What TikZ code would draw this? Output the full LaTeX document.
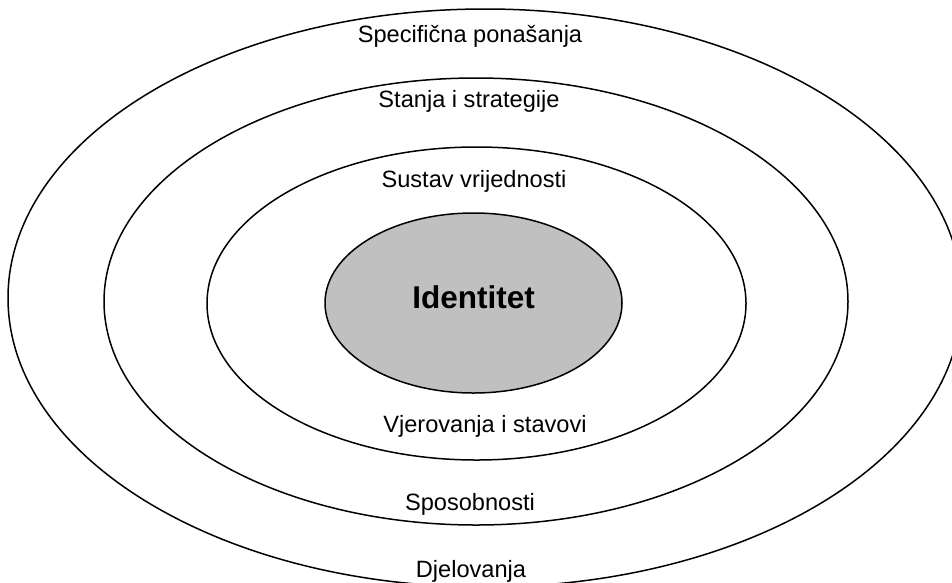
\documentclass[tikz,border=0pt]{standalone}
\usepackage{fontspec}
\setmainfont{Liberation Sans}
\usepackage{tikz}
\usetikzlibrary{shapes.geometric,positioning}
\definecolor{coreGray}{HTML}{C0C0C0}

\begin{document}
\begin{tikzpicture}[
x=1pt, y=-1pt,
every node/.style={font=\fontsize{23.6}{28}\selectfont},
ring/.style={draw, ellipse, line width=1.5pt, inner sep=0pt, outer sep=0pt},
core/.style={draw, ellipse, line width=1.5pt, inner sep=0pt, outer sep=0pt, fill=coreGray, text height=23pt, text depth=13pt, font=\fontsize{31.5}{36}\selectfont\bfseries},
lbl/.style={anchor=base, inner sep=0pt}
]
\path[use as bounding box, fill=white] (0,0) rectangle (952,582);

% Nested levels, outside in
\node[ring, minimum width=954pt, minimum height=578pt] (outer) at (485,298) {};
\node[ring, minimum width=744pt, minimum height=447pt] (second) at (476,301.5) {};
\node[ring, minimum width=539pt, minimum height=313pt] (third) at (476.5,303.5) {};
\node[core, minimum width=297pt, minimum height=180pt] (core) at (473.5,303) {Identitet};

% Level labels (top half)
\node[lbl] (specific) at (470,42) {Specifična ponašanja};
\node[lbl] (states) at (469,107) {Stanja i strategije};
\node[lbl] (values) at (474,187) {Sustav vrijednosti};

% Level labels (bottom half)
\node[lbl] (beliefs) at (485,432) {Vjerovanja i stavovi};
\node[lbl] (skills) at (470,510) {Sposobnosti};
\node[lbl] (actions) at (471,577) {Djelovanja};

\end{tikzpicture}
\end{document}
